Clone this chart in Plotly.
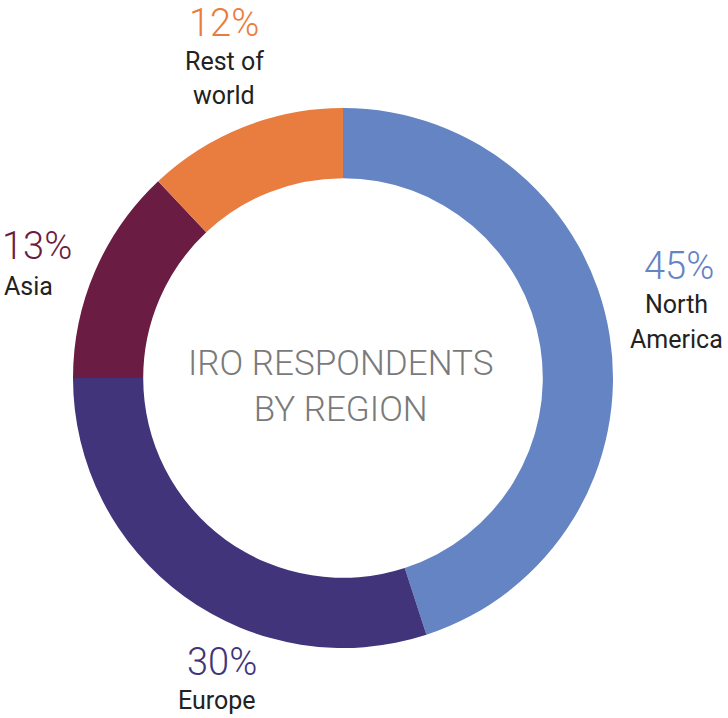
import plotly.graph_objects as go

regions = ["North America", "Europe", "Asia", "Rest of world"]
shares = [45, 30, 13, 12]
colors = ["#6584C3", "#41347A", "#6B1C43", "#E97D3F"]
label_lines = [["North", "America"], ["Europe"], ["Asia"], ["Rest of", "world"]]
center_title = "IRO RESPONDENTS<br>BY REGION"

W, H = 728, 718

def px(x, y):
    return x / W, 1 - y / H

fig = go.Figure(go.Pie(
    labels=regions, values=shares,
    marker=dict(colors=colors, line=dict(width=0)),
    hole=0.74, sort=False, direction="clockwise", rotation=0,
    textinfo="none", hoverinfo="label+percent", showlegend=False,
    domain=dict(x=[73 / W, 613 / W], y=[(H - 648) / H, (H - 108) / H]),
))

pos = {
    "North America": dict(x=679, y=266, anchor="center", lx=676, ly=[304, 339], lanchor="center"),
    "Europe": dict(x=222, y=662, anchor="center", lx=217, ly=[700], lanchor="center"),
    "Asia": dict(x=1, y=246, anchor="left", lx=3, ly=[286], lanchor="left"),
    "Rest of world": dict(x=224, y=23, anchor="center", lx=224, ly=[61, 95], lanchor="center"),
}

annotations = []
for reg, val, col, lines in zip(regions, shares, colors, label_lines):
    p = pos[reg]
    x, y = px(p["x"], p["y"])
    annotations.append(dict(x=x, y=y, xref="paper", yref="paper", text=f"{val}%",
                            showarrow=False, xanchor=p["anchor"], yanchor="middle",
                            borderpad=0,
                            font=dict(family="Roboto", size=38, color=col, weight=300)))
    for ln, ly in zip(lines, p["ly"]):
        lx, lyp = px(p["lx"], ly)
        annotations.append(dict(x=lx, y=lyp, xref="paper", yref="paper", text=ln,
                                showarrow=False, xanchor=p["lanchor"], yanchor="middle",
                                borderpad=0,
                                font=dict(family="Roboto", size=25, color="#222222")))

cx, cy = px(340, 386)
annotations.append(dict(x=cx, y=cy, xref="paper", yref="paper", text=center_title,
                        showarrow=False, xanchor="center", yanchor="middle",
                        font=dict(family="Roboto", size=35, color="#7a7a7a", weight=300)))

fig.update_layout(width=W, height=H, margin=dict(l=0, r=0, t=0, b=0),
                  paper_bgcolor="white", plot_bgcolor="white", annotations=annotations)

fig.write_html("out.html", config=dict(displayModeBar=False),
               post_script="document.body.style.margin='0';")
